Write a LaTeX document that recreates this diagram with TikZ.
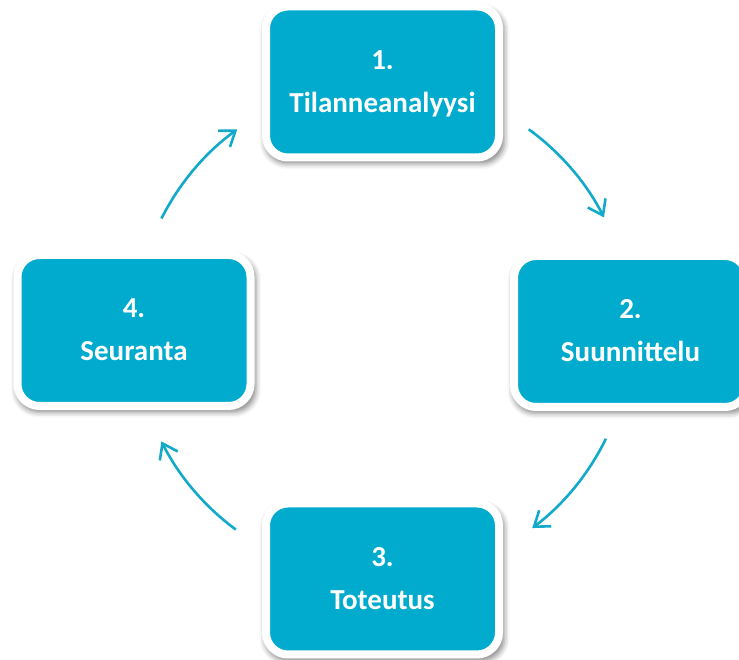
\documentclass[tikz,border=0pt]{standalone}
\usepackage{fontspec}
\setmainfont{Carlito}
\usetikzlibrary{arrows.meta,shadows.blur}
\definecolor{teal1}{HTML}{00ABCD}
\definecolor{arrowc}{HTML}{12A9CA}
\tikzset{
  stagebox/.style={
    draw=white, line width=8pt, fill=teal1, rounded corners=22pt,
    minimum width=233pt, minimum height=151pt, inner sep=0pt,
    text=white, align=center,
    font=\fontsize{29}{43}\selectfont\bfseries,
    blur shadow={shadow xshift=2pt, shadow yshift=-4pt, shadow blur radius=5pt, shadow opacity=45, shadow scale=1.03}
  },
  cyclearrow/.style={draw=arrowc, line width=2.6pt,
    -{Straight Barb[length=14pt, width=20pt, line width=2.6pt]}}
}
\begin{document}
\begin{tikzpicture}[x=1pt,y=1pt]
  \useasboundingbox (0,0) rectangle (739,660);
  \node[stagebox] (s1) at (382.5,578) {\strut 1.\\\strut Tilanneanalyysi};
  \node[stagebox] (s2) at (630.5,328.5) {\strut 2.\\\strut Suunnittelu};
  \node[stagebox] (s3) at (382.5,81) {\strut 3.\\\strut Toteutus};
  \node[stagebox] (s4) at (134,329.5) {\strut 4.\\\strut Seuranta};
  \coordinate (c) at (383,330);
  \coordinate (a1) at ($(c)+(54:248)$);
  \coordinate (a2) at ($(c)+(-26:248)$);
  \coordinate (a3) at ($(c)+(233.6:248)$);
  \coordinate (a4) at ($(c)+(153.3:248)$);
  \draw[cyclearrow] (a1) arc[start angle=54, end angle=27, radius=248];
  \draw[cyclearrow] (a2) arc[start angle=-26, end angle=-53, radius=248];
  \draw[cyclearrow] (a3) arc[start angle=233.6, end angle=206.7, radius=248];
  \draw[cyclearrow] (a4) arc[start angle=153.3, end angle=126, radius=248];
\end{tikzpicture}
\end{document}
